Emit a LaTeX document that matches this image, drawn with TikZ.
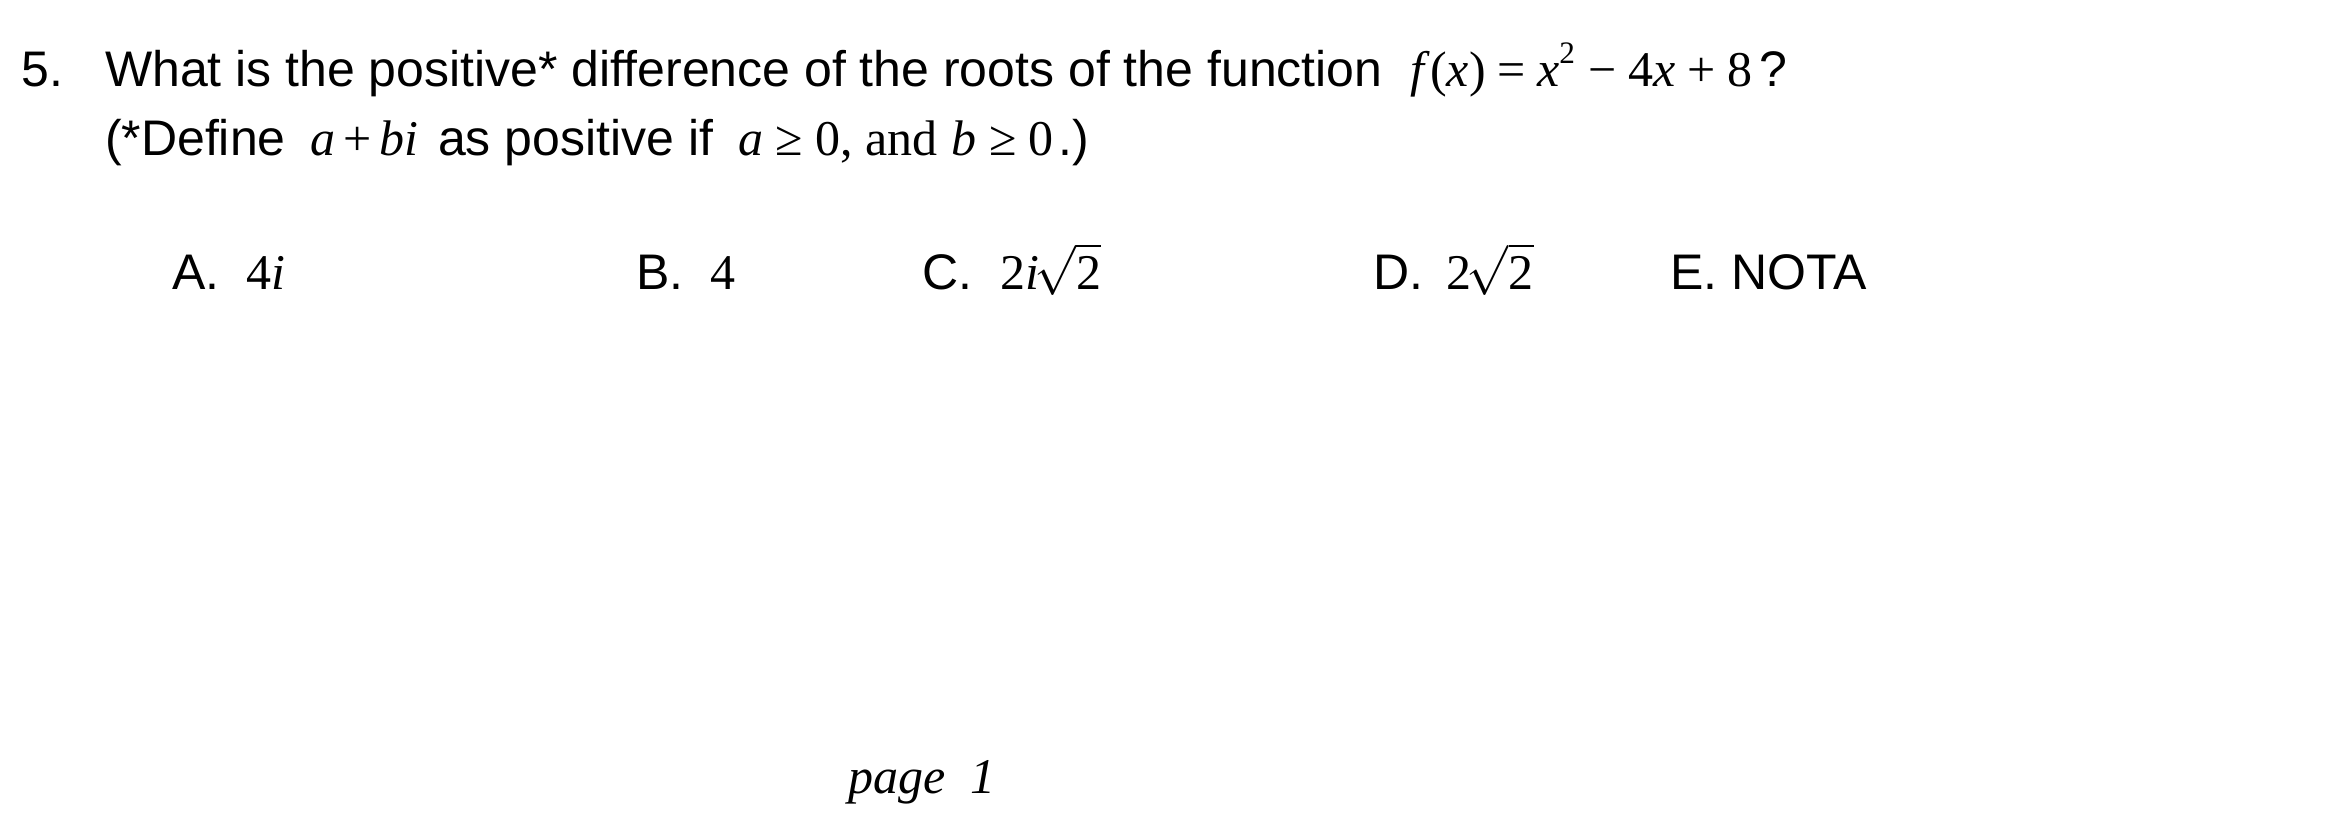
\documentclass[tikz,border=0pt]{standalone}
\usepackage{fontspec}
\setmainfont{Liberation Sans}
\newfontfamily\tms{Liberation Serif}
\newcommand{\mi}[1]{{\tms\itshape #1}}
\newcommand{\mr}[1]{{\tms #1}}
\newcommand{\supr}[1]{\raisebox{0.45em}{\fontsize{7.5}{8}\selectfont\tms #1}}
\newcommand{\rt}[1]{$\sqrt{\hbox{\tms #1}}$}
\begin{document}
\begin{tikzpicture}[x=0.24pt,y=-0.24pt,
  txt/.style={anchor=base west,inner sep=0pt,outer sep=0pt,font=\fontsize{12}{14}\selectfont}]
\useasboundingbox (0,0) rectangle (2344,812);
\fill[white] (0,0) rectangle (2344,812);
% line 1
\node[txt] (num) at (22,86) {5.};
\node[txt] (q1) at (105,86) {What is the positive* difference of the roots of the function};
\node[txt] (fx) at (1410,86) {\mi{f}\hspace{1.5pt}\mr{(}\mi{x}\mr{)}\hspace{2.8pt}\mr{=}\hspace{2.8pt}\mi{x}\supr{2}\hspace{3.3pt}\mr{\textminus}\hspace{2.8pt}\mr{4}\mi{x}\hspace{2.8pt}\mr{+}\hspace{2.8pt}\mr{8}\hspace{1.8pt}?};
% line 2
\node[txt] (q2a) at (105,155) {(*Define};
\node[txt] (abi) at (310,155) {\mi{a}\hspace{2pt}\mr{+}\hspace{2pt}\mi{bi}};
\node[txt] (q2b) at (438,155) {as positive if};
\node[txt] (cond) at (738,155) {\mi{a}\hspace{3pt}\mr{≥}\hspace{3pt}\mr{0, and} \mi{b}\hspace{3pt}\mr{≥}\hspace{3pt}\mr{0}\hspace{1pt}.)};
% options
\node[txt] (A) at (172,289) {A.};
\node[txt] (Av) at (246,289) {\mr{4}\mi{i}};
\node[txt] (B) at (636,289) {B.};
\node[txt] (Bv) at (710,289) {\mr{4}};
\node[txt] (C) at (922,289) {C.};
\node[txt] (Cv) at (1000,289) {\mr{2}\mi{i}\hspace{-1pt}\rt{2}};
\node[txt] (D) at (1373,289) {D.};
\node[txt] (Dv) at (1446,289) {\mr{2}\hspace{-1pt}\rt{2}};
\node[txt] (E) at (1670,289) {E. NOTA};
% footer
\node[txt] (pg) at (848,793) {\mi{page\ \ 1}};
\end{tikzpicture}
\end{document}
